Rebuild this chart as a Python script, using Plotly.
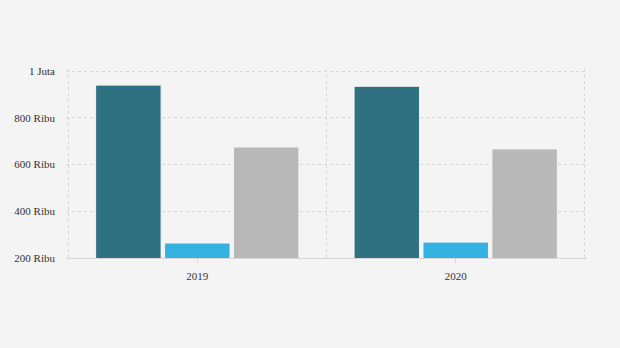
import plotly.graph_objects as go

years = [2019, 2020]
series_a = [940000, 935000]
series_b = [264000, 268000]
series_c = [675000, 667000]
y_ticks = [200000, 400000, 600000, 800000, 1000000]
y_tick_labels = ["200 Ribu", "400 Ribu", "600 Ribu", "800 Ribu", "1 Juta"]

colors = ["#2f7083", "#33b1e1", "#b8b8b9"]
names = ["Seri A", "Seri B", "Seri C"]

fig = go.Figure()
for vals, col, nm in zip([series_a, series_b, series_c], colors, names):
    fig.add_trace(go.Bar(x=years, y=vals, name=nm,
                         marker=dict(color=col, line=dict(color="#f4f4f4", width=1))))

font = dict(family="Liberation Serif", size=11, color="#333333")
fig.update_layout(
    width=620, height=348,
    paper_bgcolor="#f4f4f4", plot_bgcolor="#f4f4f4",
    margin=dict(l=66, r=33, t=69, b=90),
    barmode="group", bargap=0.2, bargroupgap=0.05,
    showlegend=False, font=font,
    xaxis=dict(range=[2018.492, 2020.508], tickvals=years, ticktext=[str(y) for y in years],
               showgrid=False, zeroline=False, showline=True, linecolor="#d8d8d8", linewidth=1,
               ticks="outside", ticklen=4, tickcolor="#d8d8d8", tickfont=font,
               ticklabelstandoff=4,
               minor=dict(tickvals=[2018.5, 2019.5, 2020.5], showgrid=True,
                          gridcolor="#d6d6d6", griddash="dot", gridwidth=1, ticks="")),
    yaxis=dict(range=[200000, 1009000], tickvals=y_ticks, ticktext=y_tick_labels,
               showgrid=True, gridcolor="#d6d6d6", griddash="dot", gridwidth=1,
               zeroline=False, showline=False, ticks="", ticklabelstandoff=10, tickfont=font),
)
fig.write_html("out.html")
